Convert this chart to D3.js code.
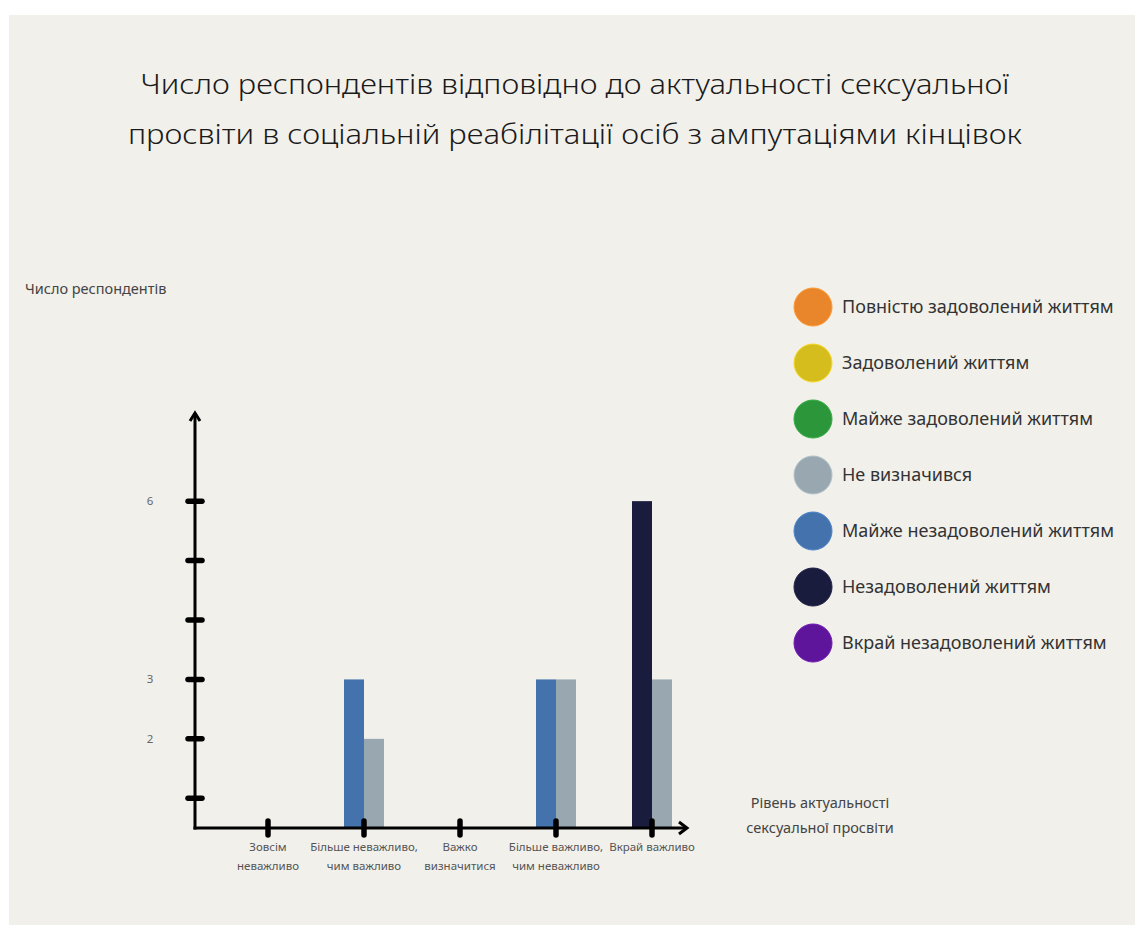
<!DOCTYPE html>
<html>
<head>
<meta charset="utf-8">
<script src="https://cdn.jsdelivr.net/npm/d3@7"></script>
<style>
  html, body { margin: 0; padding: 0; background: #ffffff; }
  svg { display: block; }
  text { font-family: "Noto Sans", "DejaVu Sans", sans-serif; }
</style>
</head>
<body>
<svg id="chart" width="1135" height="927"></svg>
<script>
// ---- data ----
const categories = [
  ["Зовсім", "неважливо"],
  ["Більше неважливо,", "чим важливо"],
  ["Важко", "визначитися"],
  ["Більше важливо,", "чим неважливо"],
  ["Вкрай важливо"]
];
const seriesNames = [
  "Повністю задоволений життям",
  "Задоволений життям",
  "Майже задоволений життям",
  "Не визначився",
  "Майже незадоволений життям",
  "Незадоволений життям",
  "Вкрай незадоволений життям"
];
const seriesColors = ["#e9852a", "#d5bd1e", "#2b963a", "#99a8b0", "#4372ad", "#1a1c3d", "#5f159b"];
const fullySatisfied    = [0, 0, 0, 0, 0];
const satisfied         = [0, 0, 0, 0, 0];
const almostSatisfied   = [0, 0, 0, 0, 0];
const undecided         = [0, 2, 0, 3, 3];
const almostUnsatisfied = [0, 3, 0, 3, 0];
const unsatisfied       = [0, 0, 0, 0, 6];
const veryUnsatisfied   = [0, 0, 0, 0, 0];
const seriesValues = [fullySatisfied, satisfied, almostSatisfied, undecided,
                      almostUnsatisfied, unsatisfied, veryUnsatisfied];
// within a group the undecided bar sits to the right of the others
const drawOrder = [0, 1, 2, 4, 5, 6, 3];
const yTicks = [1, 2, 3, 4, 5, 6];
const yTickLabels = { 2: "2", 3: "3", 6: "6" };
const title = [
  "Число респондентів відповідно до актуальності сексуальної",
  "просвіти в соціальній реабілітації осіб з ампутаціями кінцівок"
];
const yTitle = "Число респондентів";
const xTitle = ["Рівень актуальності", "сексуальної просвіти"];

// ---- layout ----
const svg = d3.select("#chart");
svg.append("rect").attr("x", 9).attr("y", 15).attr("width", 1126).attr("height", 910)
  .attr("fill", "#f1f0eb");

const axisX0 = 195, axisY0 = 828;
const x = d3.scalePoint().domain(d3.range(categories.length)).range([268, 652]);
const y = d3.scaleLinear().domain([0.5, 7.5]).range([axisY0, 412]);
const barW = 20;

// title
const titleG = svg.append("g");
[[title[0], 94, 869], [title[1], 144, 894]].forEach(([t, yy, w]) => {
  titleG.append("text").attr("x", 575).attr("y", yy).attr("text-anchor", "middle")
    .attr("font-size", 28).attr("font-weight", 300).attr("fill", "#1a1a1a")
    .attr("textLength", w).attr("lengthAdjust", "spacingAndGlyphs").text(t);
});

// bars
const g = svg.append("g");
categories.forEach((c, i) => {
  const present = drawOrder.filter(s => seriesValues[s][i] > 0);
  const sub = d3.scaleBand().domain(present).range([0, present.length * barW]);
  const left = x(i) - present.length * barW / 2;
  present.forEach(s => {
    const v = seriesValues[s][i];
    g.append("rect")
      .attr("x", left + sub(s))
      .attr("y", y(v))
      .attr("width", sub.bandwidth())
      .attr("height", y(0.5) - y(v))
      .attr("fill", seriesColors[s]);
  });
});

// axes
const axisG = svg.append("g").attr("stroke", "#000").attr("fill", "none");
axisG.append("line").attr("x1", axisX0).attr("y1", axisY0 + 1.5).attr("x2", axisX0).attr("y2", 413)
  .attr("stroke-width", 3);
axisG.append("path").attr("d", `M${axisX0 - 5},${421} L${axisX0},${413} L${axisX0 + 5},${421}`)
  .attr("stroke-width", 3).attr("stroke-linejoin", "miter");
axisG.append("line").attr("x1", axisX0 - 1.5).attr("y1", axisY0).attr("x2", 687).attr("y2", axisY0)
  .attr("stroke-width", 3);
axisG.append("path").attr("d", `M${679},${axisY0 - 6} L${687},${axisY0} L${679},${axisY0 + 6}`)
  .attr("stroke-width", 3).attr("stroke-linejoin", "miter");

// y ticks
yTicks.forEach(t => {
  axisG.append("line").attr("x1", axisX0 - 7).attr("x2", axisX0 + 7)
    .attr("y1", y(t)).attr("y2", y(t))
    .attr("stroke-width", 5.5).attr("stroke-linecap", "round");
  if (yTickLabels[t]) {
    svg.append("text").attr("x", 150).attr("y", y(t)).attr("dy", "0.35em")
      .attr("text-anchor", "middle").attr("font-size", 11.5).attr("fill", "#666")
      .text(yTickLabels[t]);
  }
});

// x ticks and labels
categories.forEach((c, i) => {
  axisG.append("line").attr("x1", x(i)).attr("x2", x(i))
    .attr("y1", axisY0 - 7).attr("y2", axisY0 + 7)
    .attr("stroke-width", 5.5).attr("stroke-linecap", "round");
  c.forEach((line, k) => {
    svg.append("text").attr("x", x(i)).attr("y", 851 + k * 19)
      .attr("text-anchor", "middle").attr("font-size", 11.5).attr("fill", "#555")
      .text(line);
  });
});

// axis titles
svg.append("text").attr("x", 25).attr("y", 294).attr("font-size", 14.5).attr("fill", "#444")
  .text(yTitle);
xTitle.forEach((t, k) => {
  svg.append("text").attr("x", 820).attr("y", 808 + k * 25).attr("text-anchor", "middle")
    .attr("font-size", 14.5).attr("fill", "#444").text(t);
});

// legend
const legend = svg.append("g");
seriesNames.forEach((name, i) => {
  const cy = 307 + i * 56;
  legend.append("circle").attr("cx", 813).attr("cy", cy).attr("r", 19)
    .attr("fill", seriesColors[i]).attr("stroke", d3.color(seriesColors[i]).brighter(0.4))
    .attr("stroke-width", 1);
  legend.append("text").attr("x", 842).attr("y", cy).attr("dy", "0.35em")
    .attr("font-size", 18).attr("fill", "#333").text(name);
});
</script>
</body>
</html>
